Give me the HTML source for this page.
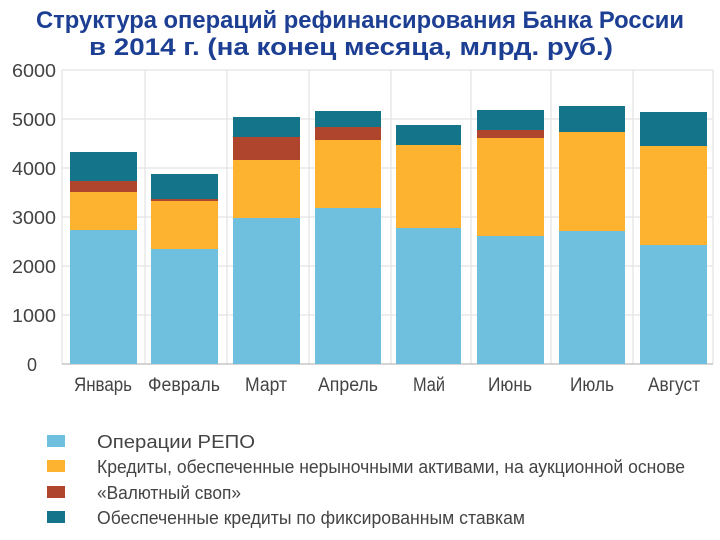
<!DOCTYPE html>
<html><head><meta charset="utf-8"><style>body{margin:0;background:#fff}svg{display:block}</style></head>
<body>
<svg width="720" height="540" xmlns="http://www.w3.org/2000/svg" font-family="Liberation Sans, sans-serif">
<rect width="720" height="540" fill="#fff"/>
<g fill="#1d3f93" font-weight="bold" font-size="24">
<text x="36" y="28" textLength="648" lengthAdjust="spacingAndGlyphs">Структура операций рефинансирования Банка России</text>
<text x="89" y="55" textLength="524" lengthAdjust="spacingAndGlyphs">в 2014 г. (на конец месяца, млрд. руб.)</text>
</g>
<g stroke="#e3e3e3" stroke-width="1.2">
<line x1="62" y1="70" x2="713" y2="70"/><line x1="62" y1="119" x2="713" y2="119"/><line x1="62" y1="168" x2="713" y2="168"/><line x1="62" y1="217" x2="713" y2="217"/><line x1="62" y1="266" x2="713" y2="266"/><line x1="62" y1="315" x2="713" y2="315"/>
<line x1="62" y1="70" x2="62" y2="364"/><line x1="145" y1="70" x2="145" y2="364"/><line x1="227" y1="70" x2="227" y2="364"/><line x1="309" y1="70" x2="309" y2="364"/><line x1="391" y1="70" x2="391" y2="364"/><line x1="471" y1="70" x2="471" y2="364"/><line x1="551" y1="70" x2="551" y2="364"/><line x1="633" y1="70" x2="633" y2="364"/><line x1="713" y1="70" x2="713" y2="364"/>
</g>
<line x1="62" y1="364" x2="713" y2="364" stroke="#bbb" stroke-width="1.2"/>
<g>
<rect x="70" y="230" width="67" height="134" fill="#6fbfdf"/><rect x="70" y="192" width="67" height="38" fill="#fdb32f"/><rect x="70" y="181" width="67" height="11" fill="#b0452d"/><rect x="70" y="152" width="67" height="29" fill="#14758a"/>
<rect x="151" y="249" width="67" height="115" fill="#6fbfdf"/><rect x="151" y="201" width="67" height="48" fill="#fdb32f"/><rect x="151" y="199" width="67" height="2" fill="#b0452d"/><rect x="151" y="174" width="67" height="25" fill="#14758a"/>
<rect x="233" y="218" width="67" height="146" fill="#6fbfdf"/><rect x="233" y="160" width="67" height="58" fill="#fdb32f"/><rect x="233" y="137" width="67" height="23" fill="#b0452d"/><rect x="233" y="117" width="67" height="20" fill="#14758a"/>
<rect x="315" y="208" width="66" height="156" fill="#6fbfdf"/><rect x="315" y="140" width="66" height="68" fill="#fdb32f"/><rect x="315" y="127" width="66" height="13" fill="#b0452d"/><rect x="315" y="111" width="66" height="16" fill="#14758a"/>
<rect x="396" y="228" width="65" height="136" fill="#6fbfdf"/><rect x="396" y="145" width="65" height="83" fill="#fdb32f"/><rect x="396" y="125" width="65" height="20" fill="#14758a"/>
<rect x="477" y="236" width="67" height="128" fill="#6fbfdf"/><rect x="477" y="138" width="67" height="98" fill="#fdb32f"/><rect x="477" y="130" width="67" height="8" fill="#b0452d"/><rect x="477" y="110" width="67" height="20" fill="#14758a"/>
<rect x="559" y="231" width="66" height="133" fill="#6fbfdf"/><rect x="559" y="132" width="66" height="99" fill="#fdb32f"/><rect x="559" y="106" width="66" height="26" fill="#14758a"/>
<rect x="640" y="245" width="67" height="119" fill="#6fbfdf"/><rect x="640" y="146" width="67" height="99" fill="#fdb32f"/><rect x="640" y="112" width="67" height="34" fill="#14758a"/>
</g>
<g fill="#444" font-size="18" text-anchor="end">
<text x="56" y="77" textLength="44" lengthAdjust="spacingAndGlyphs">6000</text><text x="56" y="126" textLength="44" lengthAdjust="spacingAndGlyphs">5000</text><text x="56" y="175" textLength="44" lengthAdjust="spacingAndGlyphs">4000</text><text x="56" y="224" textLength="44" lengthAdjust="spacingAndGlyphs">3000</text><text x="56" y="273" textLength="44" lengthAdjust="spacingAndGlyphs">2000</text><text x="56" y="322" textLength="44" lengthAdjust="spacingAndGlyphs">1000</text><text x="37" y="371">0</text>
</g>
<g fill="#444" font-size="19" text-anchor="middle">
<text x="103" y="391" textLength="58" lengthAdjust="spacingAndGlyphs">Январь</text>
<text x="184" y="391" textLength="72" lengthAdjust="spacingAndGlyphs">Февраль</text>
<text x="266" y="391" textLength="42" lengthAdjust="spacingAndGlyphs">Март</text>
<text x="348" y="391" textLength="60" lengthAdjust="spacingAndGlyphs">Апрель</text>
<text x="429" y="391" textLength="32" lengthAdjust="spacingAndGlyphs">Май</text>
<text x="510" y="391" textLength="44" lengthAdjust="spacingAndGlyphs">Июнь</text>
<text x="592" y="391" textLength="44" lengthAdjust="spacingAndGlyphs">Июль</text>
<text x="674" y="391" textLength="52" lengthAdjust="spacingAndGlyphs">Август</text>
</g>
<rect x="47" y="435" width="18" height="12" fill="#6fbfdf"/>
<rect x="47" y="460" width="18" height="12" fill="#fdb32f"/>
<rect x="47" y="486" width="18" height="12" fill="#b0452d"/>
<rect x="47" y="511" width="18" height="12" fill="#14758a"/>
<g fill="#444" font-size="18">
<text x="97" y="448" textLength="158" lengthAdjust="spacingAndGlyphs">Операции РЕПО</text>
<text x="97" y="473" textLength="588" lengthAdjust="spacingAndGlyphs">Кредиты, обеспеченные нерыночными активами, на аукционной основе</text>
<text x="97" y="499" textLength="144" lengthAdjust="spacingAndGlyphs">«Валютный своп»</text>
<text x="97" y="524" textLength="428" lengthAdjust="spacingAndGlyphs">Обеспеченные кредиты по фиксированным ставкам</text>
</g>
</svg>
</body></html>
